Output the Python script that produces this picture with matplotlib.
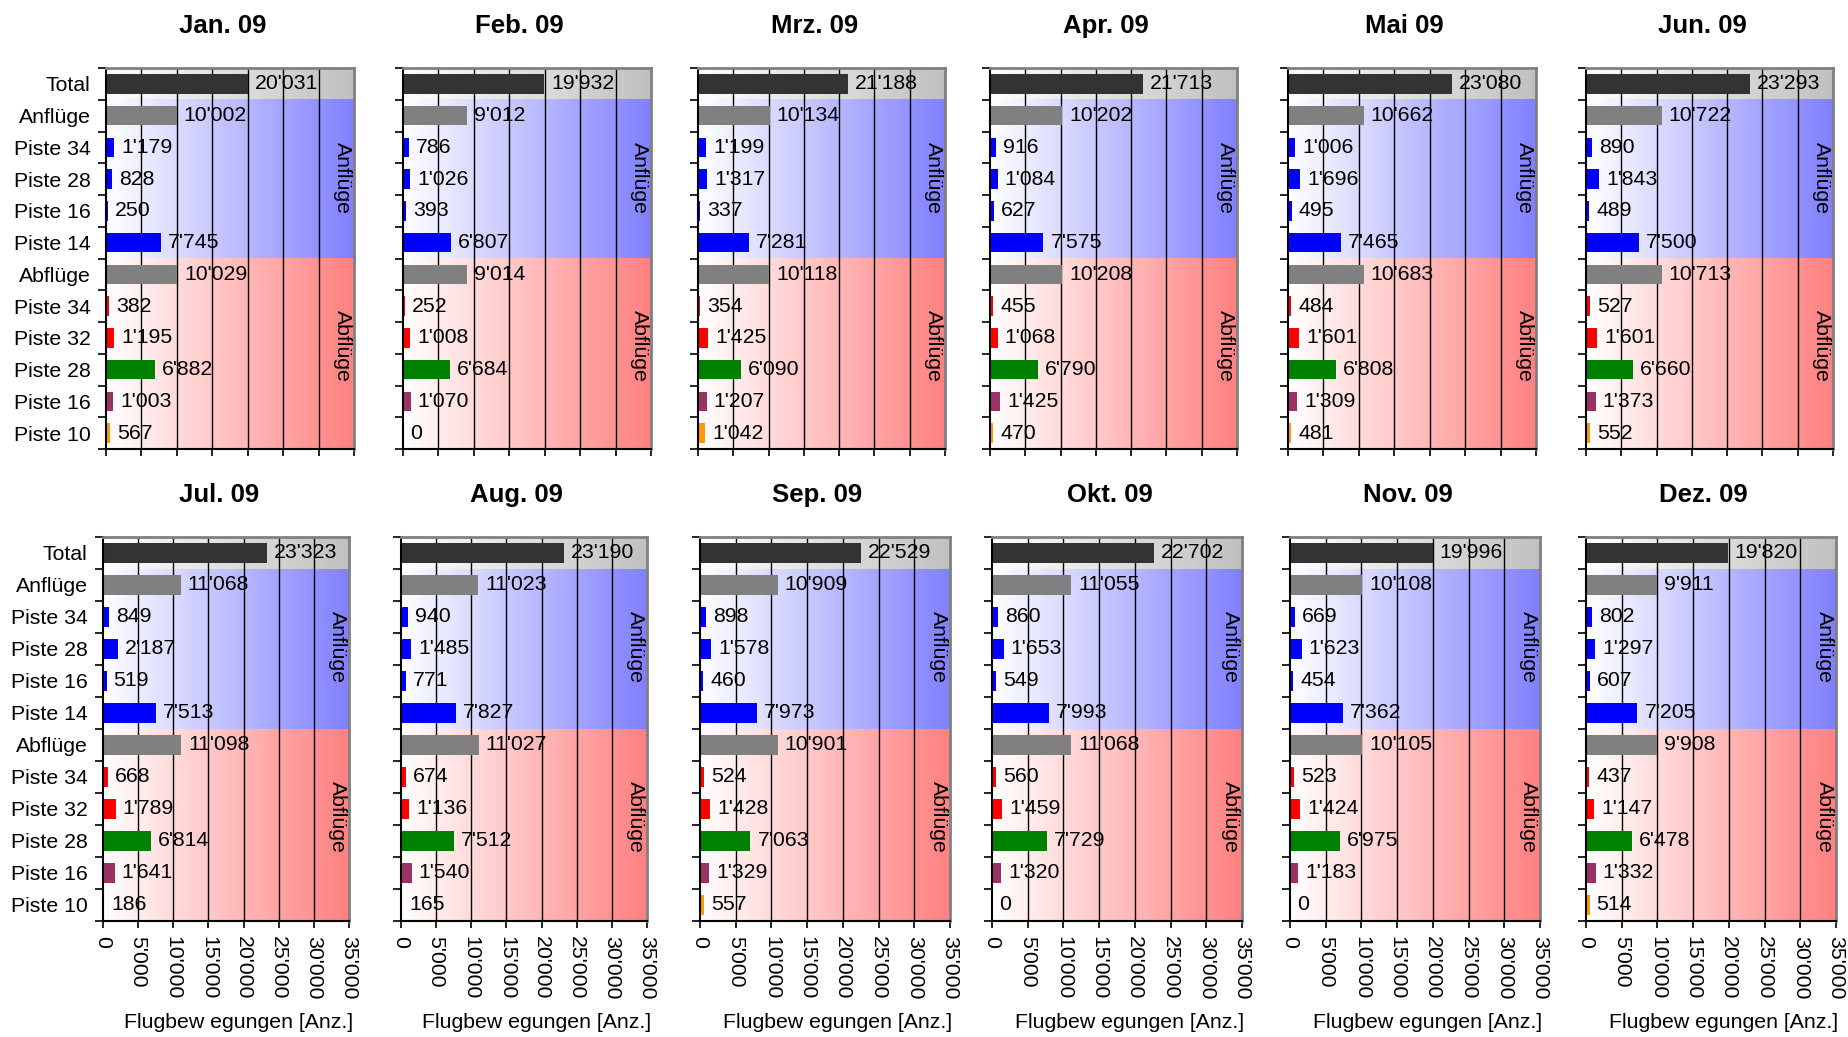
import matplotlib.pyplot as plt
import numpy as np
from matplotlib.colors import to_rgb

plt.rcParams['font.family'] = ['Liberation Sans', 'DejaVu Sans']

# Kategorien (von oben nach unten)
kategorien = ["Total", "Anflüge", "Piste 34", "Piste 28", "Piste 16", "Piste 14",
              "Abflüge", "Piste 34", "Piste 32", "Piste 28", "Piste 16", "Piste 10"]

monate = ["Jan. 09", "Feb. 09", "Mrz. 09", "Apr. 09", "Mai 09", "Jun. 09",
          "Jul. 09", "Aug. 09", "Sep. 09", "Okt. 09", "Nov. 09", "Dez. 09"]

# Flugbewegungen pro Monat, gleiche Reihenfolge wie kategorien
jan = [20031, 10002, 1179, 828, 250, 7745, 10029, 382, 1195, 6882, 1003, 567]
feb = [19932, 9012, 786, 1026, 393, 6807, 9014, 252, 1008, 6684, 1070, 0]
mrz = [21188, 10134, 1199, 1317, 337, 7281, 10118, 354, 1425, 6090, 1207, 1042]
apr = [21713, 10202, 916, 1084, 627, 7575, 10208, 455, 1068, 6790, 1425, 470]
mai = [23080, 10662, 1006, 1696, 495, 7465, 10683, 484, 1601, 6808, 1309, 481]
jun = [23293, 10722, 890, 1843, 489, 7500, 10713, 527, 1601, 6660, 1373, 552]
jul = [23323, 11068, 849, 2187, 519, 7513, 11098, 668, 1789, 6814, 1641, 186]
aug = [23190, 11023, 940, 1485, 771, 7827, 11027, 674, 1136, 7512, 1540, 165]
sep = [22529, 10909, 898, 1578, 460, 7973, 10901, 524, 1428, 7063, 1329, 557]
okt = [22702, 11055, 860, 1653, 549, 7993, 11068, 560, 1459, 7729, 1320, 0]
nov = [19996, 10108, 669, 1623, 454, 7362, 10105, 523, 1424, 6975, 1183, 0]
dez = [19820, 9911, 802, 1297, 607, 7205, 9908, 437, 1147, 6478, 1332, 514]
daten = [jan, feb, mrz, apr, mai, jun, jul, aug, sep, okt, nov, dez]

x_ticks = [0, 5000, 10000, 15000, 20000, 25000, 30000, 35000]

bar_farben = ['#333333', '#808080', '#0000ff', '#0000ff', '#0000ff', '#0000ff',
              '#808080', '#ff0000', '#ff0000', '#008000', '#993366', '#ff9900']


def fmt(v):
    return f"{v:,}".replace(",", "'")


def verlauf(ax, y0, y1, farbe):
    # horizontaler Farbverlauf von weiss nach farbe
    c = np.array(to_rgb(farbe))
    t = np.linspace(0, 1, 256)[:, None]
    img = (1 - t) * np.ones(3) + t * c
    ax.imshow(img[None, :, :], extent=(0, 35000, y1, y0), aspect='auto',
              zorder=0, interpolation='bilinear')


W, H = 1848, 1037
fig = plt.figure(figsize=(W / 100, H / 100), dpi=100)

# Achsenpositionen in Pixeln (links, rechts) pro Zeile
pos_oben = [(106, 354), (403, 651), (698, 945), (990, 1237), (1288, 1536), (1586, 1833)]
pos_unten = [(103, 349), (401, 647), (700, 950), (992, 1242), (1290, 1540), (1586, 1836)]
zeilen = [(68, 449), (537, 921)]

fs = 15.3
for k in range(12):
    r, c = divmod(k, 6)
    l, rr = (pos_oben if r == 0 else pos_unten)[c]
    top, bot = zeilen[r]
    ax = fig.add_axes([l / W, (H - bot) / H, (rr - l) / W, (bot - top) / H])

    verlauf(ax, -0.5, 0.5, '#c0c0c0')
    verlauf(ax, 0.5, 5.5, '#8080ff')
    verlauf(ax, 5.5, 11.5, '#ff8080')

    for g in x_ticks[1:-1]:
        ax.axvline(g, color='black', lw=1, zorder=1)

    werte = daten[k]
    y = np.arange(len(kategorien))
    ax.barh(y, werte, height=0.62, color=bar_farben, zorder=2)
    for i, v in enumerate(werte):
        ax.annotate(fmt(v), xy=(v, i), xytext=(5, 0), textcoords='offset points',
                    va='center', ha='left', fontsize=fs, zorder=3)

    ax.text(33400, 2.95, 'Anflüge', rotation=270, ha='center', va='center', fontsize=fs)
    ax.text(33400, 8.25, 'Abflüge', rotation=270, ha='center', va='center', fontsize=fs)

    ax.set_xlim(0, 35000)
    ax.set_ylim(11.5, -0.5)

    # Teilstriche an den Grenzen, Beschriftung in der Mitte
    ax.set_yticks(np.arange(-0.5, 12, 1))
    ax.set_yticklabels([])
    ax.tick_params(axis='y', which='major', length=6, width=1.2, direction='out')
    ax.set_yticks(y, minor=True)
    if c == 0:
        ax.set_yticklabels(kategorien, minor=True, fontsize=fs)
    ax.tick_params(axis='y', which='minor', length=0, pad=11)

    ax.set_xticks(x_ticks)
    ax.tick_params(axis='x', length=5, width=1.2, direction='out', pad=6)
    if r == 1:
        ax.set_xticklabels([fmt(t) for t in x_ticks], rotation=270, fontsize=fs)
        ax.set_xlabel("Flugbew egungen [Anz.]", fontsize=fs)
        ax.xaxis.set_label_coords(0.55, -0.24)
    else:
        ax.set_xticklabels([])

    ax.spines['top'].set_color('#808080')
    ax.spines['right'].set_color('#808080')
    ax.spines['top'].set_linewidth(2)
    ax.spines['right'].set_linewidth(2)
    ax.spines['left'].set_linewidth(1.5)
    ax.spines['bottom'].set_linewidth(1.5)

    ax.set_title(monate[k], fontsize=18.5, fontweight='bold', pad=25, x=0.47)

fig.savefig("out.png", dpi=100)
